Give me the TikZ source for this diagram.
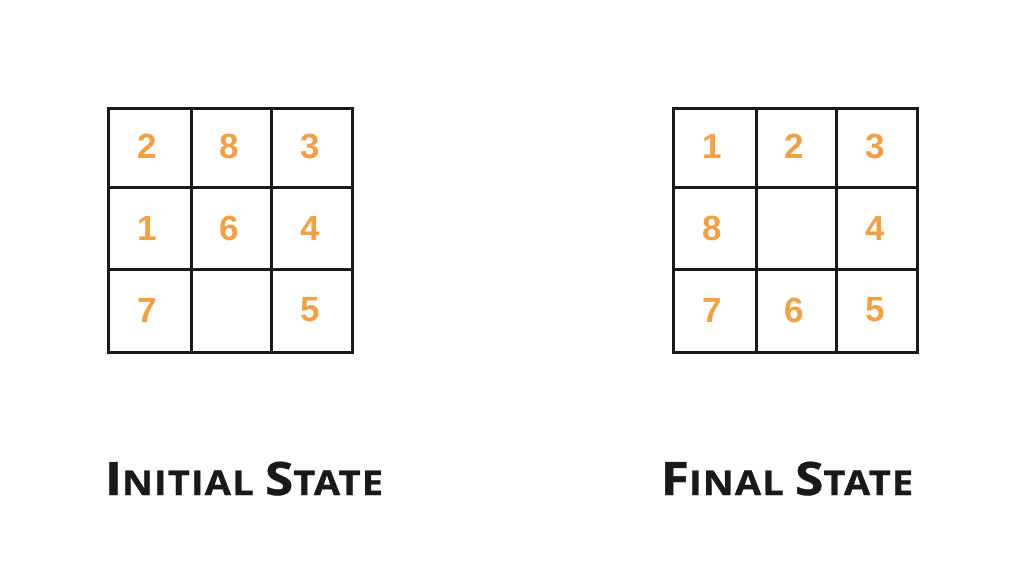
\documentclass[tikz,border=0pt]{standalone}
\usepackage{fontspec}
\usepackage{graphicx}
\newfontfamily\digitfont{Liberation Sans}
\newfontfamily\labelfont[LetterSpace=3,BoldFeatures={FakeBold=0.8}]{Open Sans}
\definecolor{tileorange}{RGB}{240,160,70}
\definecolor{gridblack}{RGB}{25,25,25}
\newcommand{\bigsc}[1]{{\fontsize{46}{50}\selectfont #1}}
\newcommand{\smsc}[1]{{\fontsize{34}{40}\selectfont #1}}
\begin{document}
\begin{tikzpicture}[x=1pt,y=-1pt,
  gridline/.style={draw=gridblack,line width=3pt},
  tile/.style={text=tileorange,font=\digitfont\bfseries\fontsize{35}{35}\selectfont,inner sep=0pt,anchor=center},
  caption/.style={text=gridblack,font=\labelfont\bfseries,inner sep=0pt,anchor=base}]
\useasboundingbox[fill=white] (0,0) rectangle (1024,576);
% left grid
\draw[gridline] (108,108) rectangle (352,352);
\draw[gridline] (191,108) -- (191,352);
\draw[gridline] (271,108) -- (271,352);
\draw[gridline] (108,187) -- (352,187);
\draw[gridline] (108,269) -- (352,269);
% right grid
\draw[gridline] (673,108) rectangle (917,352);
\draw[gridline] (756,108) -- (756,352);
\draw[gridline] (836,108) -- (836,352);
\draw[gridline] (673,187) -- (917,187);
\draw[gridline] (673,269) -- (917,269);
% left tiles
\node[tile] (l11) at (147,146) {2};
\node[tile] (l12) at (229,146) {8};
\node[tile] (l13) at (310,146) {3};
\node[tile] (l21) at (147,228) {1};
\node[tile] (l22) at (229,228) {6};
\node[tile] (l23) at (310,228) {4};
\node[tile] (l31) at (147,310) {7};
\node[tile] (l33) at (310,310) {5};
% right tiles
\node[tile] (r11) at (712,146) {1};
\node[tile] (r12) at (794,146) {2};
\node[tile] (r13) at (875,146) {3};
\node[tile] (r21) at (712,228) {8};
\node[tile] (r23) at (875,228) {4};
\node[tile] (r31) at (712,310) {7};
\node[tile] (r32) at (794,310) {6};
\node[tile] (r33) at (875,310) {5};
% captions
\node[caption] (initcap) at (244,495) {\scalebox{1.12}[1]{\bigsc{I}\smsc{NITIAL}\hspace{10pt}\bigsc{S}\smsc{TATE}}};
\node[caption] (finalcap) at (787,495) {\scalebox{1.12}[1]{\bigsc{F}\smsc{INAL}\hspace{10pt}\bigsc{S}\smsc{TATE}}};
\end{tikzpicture}
\end{document}
